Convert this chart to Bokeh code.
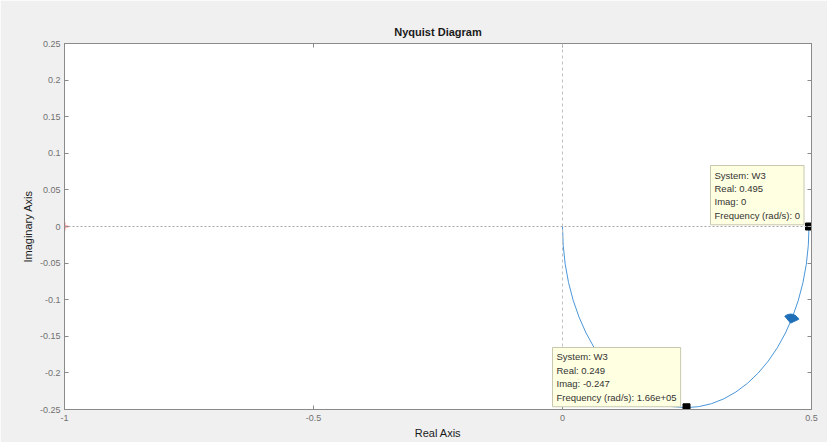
from bokeh.plotting import figure
from bokeh.models import Range1d, FixedTicker, LinearAxis, Label, Span
from bokeh.embed import file_html
from bokeh.resources import INLINE

# ---- data ----
real_part = [0.495, 0.4936, 0.4896, 0.4829, 0.4736, 0.4618, 0.4477, 0.4314, 0.4131, 0.3930,
             0.3713, 0.3482, 0.3240, 0.2990, 0.2734, 0.2475, 0.2216, 0.1960, 0.1710, 0.1468,
             0.1237, 0.1020, 0.0819, 0.0636, 0.0473, 0.0332, 0.0214, 0.0121, 0.0054, 0.0014, 0.0]
imag_part = [0.0, -0.0259, -0.0515, -0.0765, -0.1007, -0.1238, -0.1455, -0.1656, -0.1839, -0.2002,
             -0.2143, -0.2261, -0.2354, -0.2421, -0.2461, -0.2475, -0.2461, -0.2421, -0.2354, -0.2261,
             -0.2143, -0.2002, -0.1839, -0.1656, -0.1455, -0.1238, -0.1007, -0.0765, -0.0515, -0.0259, 0.0]

x_ticks = [-1, -0.5, 0, 0.5]
x_tick_labels = ["-1", "-0.5", "0", "0.5"]
y_ticks = [-0.25, -0.2, -0.15, -0.1, -0.05, 0, 0.05, 0.1, 0.15, 0.2, 0.25]
y_tick_labels = ["-0.25", "-0.2", "-0.15", "-0.1", "-0.05", "0", "0.05", "0.1", "0.15", "0.2", "0.25"]

tip_system = ["W3", "W3"]
tip_real = [0.495, 0.249]
tip_imag = [0.0, -0.247]
tip_real_text = ["0.495", "0.249"]
tip_imag_text = ["0", "-0.247"]
tip_freq_text = ["0", "1.66e+05"]

critical_real = [-1.0]
critical_imag = [0.0]

# direction arrowhead tip
arrow_real = [0.458]
arrow_imag = [-0.132]

FONT = "Liberation Sans"

p = figure(width=827, height=442, output_backend="svg", toolbar_location=None,
           x_range=Range1d(-1, 0.5), y_range=Range1d(-0.25, 0.25),
           min_border_left=64, min_border_right=16, min_border_top=43, min_border_bottom=33,
           x_axis_label="Real Axis", y_axis_label="Imaginary Axis",
           title="Nyquist Diagram")
p.border_fill_color = "#f0f0f0"
p.background_fill_color = "white"
p.outline_line_color = "#8a8a8a"
p.grid.visible = False

p.title.align = "center"
p.title.text_font = FONT
p.title.text_font_size = "11px"
p.title.text_font_style = "bold"
p.title.text_color = "#1a1a1a"
p.title.standoff = 11

def style_axis(ax, ticks, labels, show_labels=True):
    ax.ticker = FixedTicker(ticks=ticks)
    ax.major_label_overrides = {t: l for t, l in zip(ticks, labels)}
    ax.major_tick_in = 4
    ax.major_tick_out = 0
    ax.minor_tick_in = 0
    ax.minor_tick_out = 0
    ax.axis_line_color = "#8a8a8a"
    ax.major_tick_line_color = "#8a8a8a"
    ax.major_label_text_font = FONT
    ax.major_label_text_color = "#707070"
    ax.major_label_text_font_size = "9px" if show_labels else "0px"
    ax.axis_label_text_font = FONT
    ax.axis_label_text_font_size = "11px"
    ax.axis_label_text_font_style = "normal"
    ax.axis_label_text_color = "#1a1a1a"

style_axis(p.xaxis[0], x_ticks, x_tick_labels)
style_axis(p.yaxis[0], y_ticks, y_tick_labels)
p.xaxis[0].major_label_standoff = 5
p.xaxis[0].axis_label_standoff = 3
p.yaxis[0].major_label_standoff = 4
p.yaxis[0].axis_label_standoff = 3

top_ax = LinearAxis()
right_ax = LinearAxis()
style_axis(top_ax, x_ticks, ["" for _ in x_ticks], show_labels=False)
style_axis(right_ax, y_ticks, ["" for _ in y_ticks], show_labels=False)
top_ax.major_label_standoff = 0
right_ax.major_label_standoff = 0
p.add_layout(top_ax, "above")
p.add_layout(right_ax, "right")

p.add_layout(Span(location=0, dimension="height", line_color="#c0c0c0", line_dash="3 3", line_width=1))
p.add_layout(Span(location=0, dimension="width", line_color="#a8a8a8", line_dash="2 2", line_width=1))

p.line(real_part, imag_part, line_color="#4a96d8", line_width=1)
p.wedge(x=arrow_real, y=arrow_imag, radius=9, radius_units="screen",
        start_angle=0.44, end_angle=2.27, fill_color="#1f6fb8", line_color="#1f6fb8")
p.scatter(critical_real, critical_imag, marker="cross", size=8, line_color="#ff2020", line_width=1.5)
p.scatter(tip_real, tip_imag, marker="square", size=7, fill_color="black", line_color="black")

tip_boxes = [(0.2972, 0.0833), (-0.0201, -0.1653)]
for i, (bx, by) in enumerate(tip_boxes):
    txt = (f"System: {tip_system[i]}\nReal: {tip_real_text[i]}\n"
           f"Imag: {tip_imag_text[i]}\nFrequency (rad/s): {tip_freq_text[i]}")
    p.add_layout(Label(x=bx, y=by, text=txt, text_font=FONT, text_font_size="9.5px",
                       text_color="#333333", text_align="left", text_baseline="top",
                       text_line_height=1.22, padding=4,
                       background_fill_color="#ffffe1", background_fill_alpha=1,
                       border_line_color="#c8c8b0", border_line_width=1))

open("out.html", "w").write(file_html(p, INLINE))
